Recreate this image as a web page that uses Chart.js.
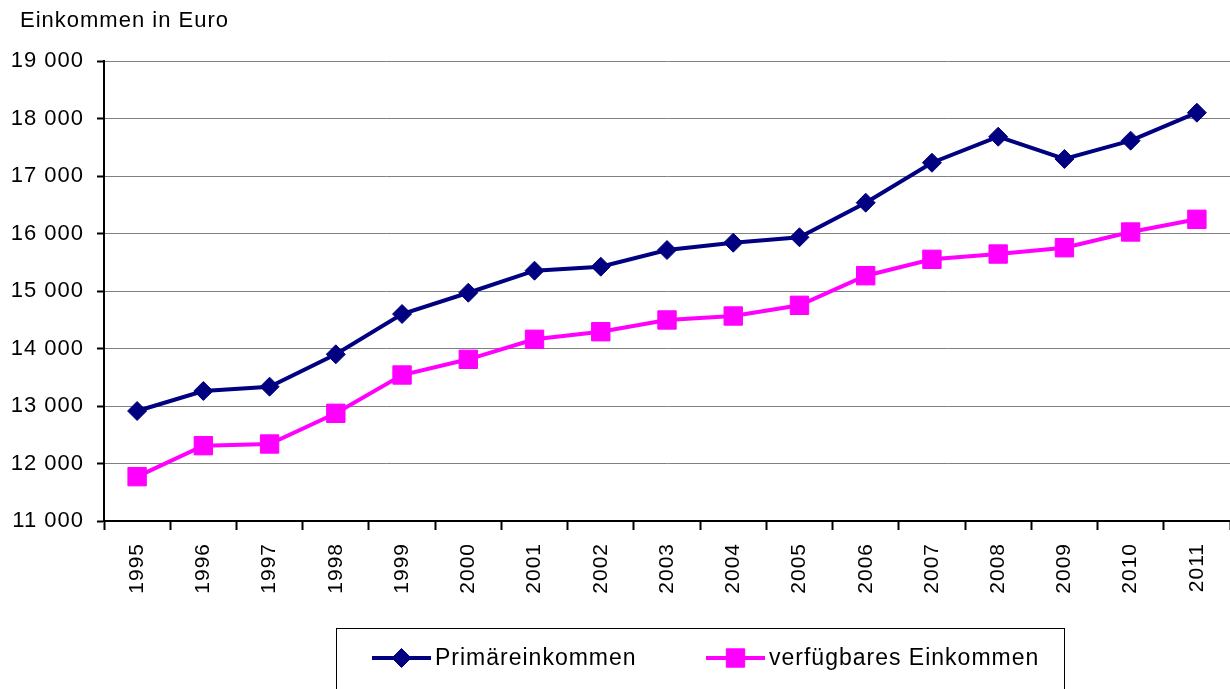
<!DOCTYPE html>
<html>
<head>
<meta charset="utf-8">
<script src="https://cdn.jsdelivr.net/npm/chart.js@4.4.1/dist/chart.umd.min.js"></script>
<style>
  html, body { margin: 0; padding: 0; background: #fff; }
  #wrap { width: 1230px; height: 689px; position: relative; }
</style>
</head>
<body>
<div id="wrap"><canvas id="chart"></canvas></div>
<script>
const years = ["1995", "1996", "1997", "1998", "1999", "2000", "2001", "2002", "2003",
  "2004", "2005", "2006", "2007", "2008", "2009", "2010", "2011"];
const primaer = [12913, 13261, 13336, 13899, 14600, 14970, 15353, 15423, 15713,
  15840, 15934, 16536, 17231, 17683, 17296, 17614, 18101];
const verfuegbar = [11771, 12310, 12339, 12873, 13539, 13812, 14160, 14292, 14496,
  14565, 14751, 15266, 15551, 15643, 15753, 16026, 16247];
const yTitle = "Einkommen in Euro";
const FONT = "'Liberation Sans', Arial, sans-serif";

// title, legend box, letter spacing
const extras = {
  id: "extras",
  beforeDraw(chart) {
    chart.ctx.letterSpacing = "1px";
  },
  afterDraw(chart) {
    const ctx = chart.ctx;
    ctx.save();
    ctx.letterSpacing = "1px";
    ctx.fillStyle = "#000";
    ctx.font = "22px " + FONT;
    ctx.textBaseline = "alphabetic";
    ctx.fillText(yTitle, 20, 27);

    // legend box
    ctx.strokeStyle = "#000";
    ctx.lineWidth = 1;
    ctx.strokeRect(336.5, 628.5, 728, 80);

    const items = [
      { x: 372, ds: chart.data.datasets[0] },
      { x: 706, ds: chart.data.datasets[1] }
    ];
    const ly = 658;
    ctx.font = "23px " + FONT;
    ctx.textBaseline = "middle";
    items.forEach((it) => {
      ctx.strokeStyle = it.ds.borderColor;
      ctx.lineWidth = 4;
      ctx.beginPath();
      ctx.moveTo(it.x, ly);
      ctx.lineTo(it.x + 59, ly);
      ctx.stroke();
      ctx.fillStyle = it.ds.borderColor;
      ctx.strokeStyle = it.ds.borderColor;
      ctx.lineWidth = 1;
      Chart.helpers.drawPoint(ctx, {
        pointStyle: it.ds.pointStyle,
        radius: it.ds.pointRadius,
        borderWidth: 1,
        rotation: 0
      }, it.x + 29.5, ly);
      ctx.fillStyle = "#000";
      ctx.fillText(it.ds.label, it.x + 63, ly + 1);
    });
    ctx.restore();
  }
};

new Chart(document.getElementById("chart"), {
  type: "line",
  data: {
    labels: years,
    datasets: [
      {
        label: "Primäreinkommen",
        data: primaer,
        borderColor: "#000080",
        backgroundColor: "#000080",
        borderWidth: 4,
        pointStyle: "rectRot",
        pointRadius: 9.5,
        pointBorderWidth: 1,
        pointHoverRadius: 9.5,
        tension: 0
      },
      {
        label: "verfügbares Einkommen",
        data: verfuegbar,
        borderColor: "#ff00ff",
        backgroundColor: "#ff00ff",
        borderWidth: 4,
        pointStyle: "rect",
        pointRadius: 13,
        pointBorderWidth: 1,
        pointHoverRadius: 13,
        tension: 0
      }
    ]
  },
  options: {
    responsive: true,
    maintainAspectRatio: false,
    animation: false,
    layout: { autoPadding: false, padding: { top: 61, left: 0, right: 0, bottom: 0 } },
    plugins: {
      legend: { display: false },
      tooltip: { enabled: false }
    },
    scales: {
      x: {
        offset: true,
        grid: {
          offset: true,
          drawOnChartArea: false,
          drawTicks: true,
          tickLength: 9,
          tickColor: "#000",
          tickWidth: 2
        },
        border: { color: "#000", width: 2 },
        ticks: {
          color: "#000",
          font: { family: FONT, size: 21 },
          minRotation: 90,
          maxRotation: 90,
          padding: 13,
          autoSkip: false
        },
        afterFit(scale) {
          scale.height = 168;
          scale.paddingLeft = 0;
          scale.paddingRight = 0;
        }
      },
      y: {
        min: 11000,
        max: 19000,
        grid: {
          color: "#808080",
          lineWidth: 1,
          drawTicks: true,
          tickLength: 7,
          tickColor: "#000",
          tickWidth: 2
        },
        border: { color: "#000", width: 2 },
        ticks: {
          stepSize: 1000,
          color: "#000",
          font: { family: FONT, size: 22 },
          padding: 13,
          callback: (v) => String(v).replace(/(\d+)(\d{3})$/, "$1 $2")
        },
        afterFit(scale) { scale.width = 104; }
      }
    }
  },
  plugins: [extras]
});
</script>
</body>
</html>
